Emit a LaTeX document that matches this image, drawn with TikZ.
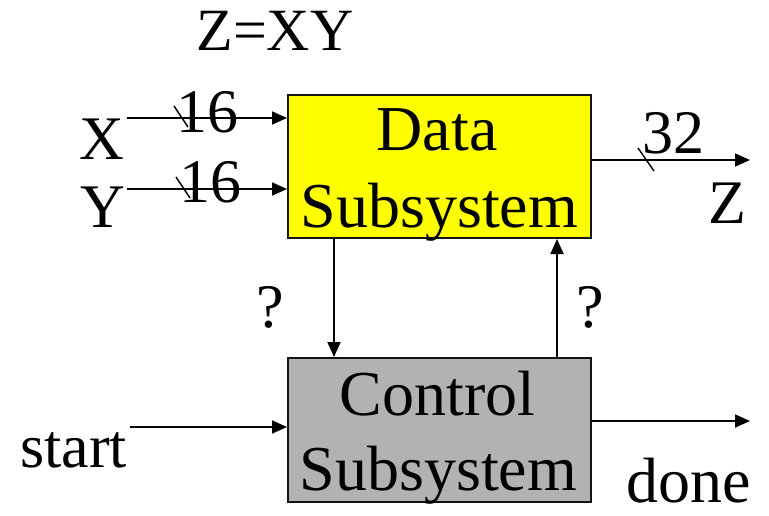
\documentclass[tikz,border=0pt]{standalone}
\usepackage{fontspec}
\setmainfont{Liberation Serif}
\usetikzlibrary{arrows.meta,calc}
\definecolor{datayellow}{RGB}{255,255,0}
\definecolor{ctrlgray}{RGB}{178,178,178}
\definecolor{edge}{RGB}{20,20,20}
\tikzset{
  lbl/.style={anchor=base, inner sep=0pt, font=\fontsize{62}{70}\selectfont},
  big/.style={anchor=base, inner sep=0pt, font=\fontsize{64}{70}\selectfont},
  blk/.style={draw=edge, line width=2pt, anchor=north west, inner sep=0pt, minimum width=303pt},
  arr/.style={line width=1.8pt, -{Triangle[length=15pt,width=13pt]}},
  tick/.style={line width=1.4pt}
}
\begin{document}
\begin{tikzpicture}[x=1pt,y=-1pt]
\useasboundingbox (0,0) rectangle (769,515);
% blocks
\node[blk, fill=datayellow, minimum height=143pt] (data) at (287,94) {};
\node[blk, fill=ctrlgray, minimum height=144pt] (control) at (287,357) {};
% texts
\node[lbl, font=\fontsize{60}{70}\selectfont] (title) at (275,50) {Z=XY};
\node[big] (dataA) at (437,150) {Data};
\node[big] (dataB) at (439.5,227) {Subsystem};
\node[big] (ctrlA) at (437.5,415) {Control};
\node[big] (ctrlB) at (438.5,490) {Subsystem};
\node[lbl] (xl) at (101.5,159) {X};
\node[lbl] (yl) at (103,227) {Y};
\node[lbl] (n16a) at (207.5,132) {16};
\node[lbl] (n16b) at (210.5,202) {16};
\node[lbl] (n32) at (673,153) {32};
\node[lbl] (zl) at (727.5,223) {Z};
\node[lbl] (startl) at (73.5,467) {start};
\node[big] (donel) at (689,502) {done};
\node[lbl] (q1) at (270,327) {?};
\node[lbl] (q2) at (590,327) {?};
% free ends
\coordinate (xin) at (127,118);
\coordinate (yin) at (127,189);
\coordinate (zout) at (750,160);
\coordinate (sin) at (130,427);
\coordinate (dout) at (750,421);
% connectors
\draw[arr] (xin) -- (xin -| data.west);
\draw[arr] (yin) -- (yin -| data.west);
\draw[arr] (zout -| data.east) -- (zout);
\draw[arr] (sin) -- (sin -| control.west);
\draw[arr] (dout -| control.east) -- (dout);
\draw[arr] ($(data.south west)+(47,0)$) -- ($(control.north west)+(47,0)$);
\draw[arr] ($(control.north west)+(270,0)$) -- ($(data.south west)+(270,0)$);
% bus ticks
\draw[tick] (174,106) -- (188,127);
\draw[tick] (176,177) -- (190,198);
\draw[tick] (638,148) -- (654,171);
\end{tikzpicture}
\end{document}
